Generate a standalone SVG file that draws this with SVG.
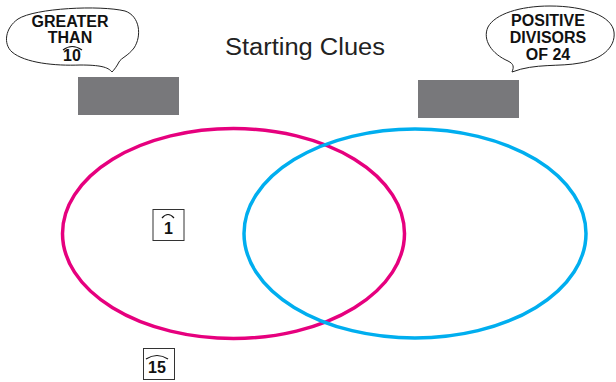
<svg xmlns="http://www.w3.org/2000/svg" width="616" height="382" viewBox="0 0 616 382">
<style>
.bub{fill:#fff;stroke:#222;stroke-width:1}
.bt{font-family:"Liberation Sans",Arial,sans-serif;font-weight:bold;font-size:16px;fill:#111;text-anchor:middle}
.gray{fill:#78787b}
.box{fill:#fff;stroke:#333;stroke-width:1}
.hat{fill:none;stroke:#111;stroke-width:1.2}
.num{font-family:"Liberation Sans",Arial,sans-serif;font-weight:bold;font-size:16px;fill:#111;text-anchor:middle}
</style>
<rect width="616" height="382" fill="#fff"/>
<g id="title">
<text x="305" y="55" font-family="Liberation Sans,Arial,sans-serif" font-size="23.5" fill="#222" text-anchor="middle" textLength="160" lengthAdjust="spacingAndGlyphs">Starting Clues</text>
</g>
<g id="clue-left">
<path class="bub" d="M112 72 C108 67 100 65 80 65 C55 66 25 63 12 52 C3 44 5 28 18 19 C35 8 100 5 125 11 C140 16 142 36 134 48 C128 56 121 58 119 62 C117 66 114 70 112 72 Z"/>
<text class="bt" x="70" y="27">GREATER</text>
<text class="bt" x="70" y="43">THAN</text>
<text class="bt" x="72" y="61">10</text>
<path class="hat" d="M63 50 Q72 43 82 50"/>
</g>
<g id="clue-right">
<path class="bub" d="M512 72 C514 67 514 64 508 61 C492 54 482 40 488 27 C495 14 520 6 550 6 C585 6 612 16 614 32 C616 48 600 60 580 63 C560 67 535 63 512 72 Z"/>
<text class="bt" x="548" y="26">POSITIVE</text>
<text class="bt" x="548" y="43">DIVISORS</text>
<text class="bt" x="548" y="60">OF 24</text>
</g>
<g id="placeholder-left"><rect class="gray" x="78" y="77" width="101" height="38"/></g>
<g id="placeholder-right"><rect class="gray" x="418" y="80" width="101" height="38"/></g>
<g id="set-left"><ellipse cx="233.5" cy="233.5" rx="171" ry="105" fill="none" stroke="#e6007e" stroke-width="3.5"/></g>
<g id="set-right"><ellipse cx="415" cy="233.5" rx="171" ry="104.5" fill="none" stroke="#00aeef" stroke-width="3.5"/></g>
<g id="card-1">
<rect class="box" x="153" y="209.5" width="31" height="31"/>
<text class="num" x="168.5" y="234" font-size="17">1</text>
<path class="hat" d="M162 218 Q168 211 174 218"/>
</g>
<g id="card-15">
<rect class="box" x="143.5" y="348.5" width="31" height="31"/>
<text class="num" x="157" y="373" font-size="15">15</text>
<path class="hat" d="M146 359 Q157 352 168 359"/>
</g>
<g id="connectors"></g>
</svg>
